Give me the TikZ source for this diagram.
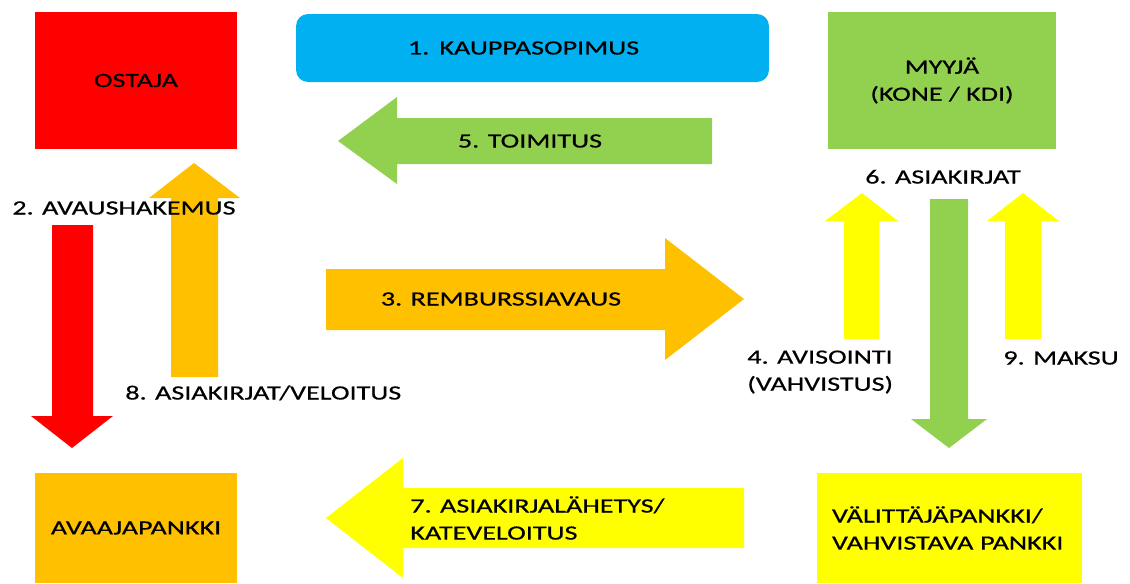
\documentclass[tikz,border=0pt]{standalone}
\usepackage{fontspec}
\setmainfont{Carlito}[FakeStretch=1.39, FakeBold=0.6]
\usetikzlibrary{positioning}
\definecolor{kred}{HTML}{FF0000}
\definecolor{kblue}{HTML}{00B0F0}
\definecolor{kgreen}{HTML}{92D050}
\definecolor{korange}{HTML}{FFC000}
\definecolor{kyellow}{HTML}{FFFF00}

\begin{document}
\begin{tikzpicture}[x=0.02cm, y=-0.02cm,
  every node/.style={font=\fontsize{11.5}{15.4}\selectfont, text=black},
  party/.style={inner sep=0pt, align=center},
  lbl/.style={inner sep=0pt, text height=7.4pt, text depth=0pt}]
\useasboundingbox (0,0) rectangle (1130,583);
% parties
\node[party, fill=kred, minimum width=4.04cm, minimum height=2.74cm] (ostaja) at (136,80.5) {OSTAJA};
\node[party, fill=kblue, rounded corners=0.24cm, align=left, text width=4.98cm, inner xsep=2.24cm, minimum width=9.46cm, minimum height=1.36cm] (sopimus) at (532.5,48) {1. KAUPPASOPIMUS};
\node[party, fill=kgreen, minimum width=4.56cm, minimum height=2.74cm] (myyja) at (942,80.5) {MYYJÄ\\(KONE / KDI)};
\node[party, fill=korange, minimum width=4.04cm, minimum height=2.2cm] (avaaja) at (136,528) {AVAAJAPANKKI};
\node[party, fill=kyellow, align=left, text width=4.7cm, inner xsep=0.3cm, minimum width=5.3cm, minimum height=2.2cm] (valittaja) at (949.5,528) {VÄLITTÄJÄPANKKI/\\VAHVISTAVA PANKKI};
% horizontal arrows
\fill[kgreen] (712,118) -- (397,118) -- (397,97) -- (338,141) -- (397,184) -- (397,164) -- (712,164) -- cycle;
\fill[korange] (326,269) -- (665,269) -- (665,238) -- (744,299) -- (665,360) -- (665,330) -- (326,330) -- cycle;
\fill[kyellow] (744,488) -- (403,488) -- (403,458) -- (326,518) -- (403,578) -- (403,548) -- (744,548) -- cycle;
% vertical arrows
\fill[kred] (52,225) -- (93,225) -- (93,416) -- (113,416) -- (72,448) -- (31,416) -- (52,416) -- cycle;
\fill[korange] (171,377) -- (218,377) -- (218,198) -- (240,198) -- (194,163) -- (149,198) -- (171,198) -- cycle;
\fill[kyellow] (844,339) -- (879,339) -- (879,221) -- (898,221) -- (862,193) -- (825,221) -- (844,221) -- cycle;
\fill[kgreen] (930,199) -- (968,199) -- (968,419) -- (987,419) -- (949,448) -- (911,419) -- (930,419) -- cycle;
\fill[kyellow] (1005,339) -- (1041,339) -- (1041,221) -- (1059,221) -- (1023,193) -- (987,221) -- (1005,221) -- cycle;
% labels
\node[lbl] (toimitus) at (530,141) {5. TOIMITUS};
\node[lbl] (remburssi) at (501,299) {3. REMBURSSIAVAUS};
\node[lbl] (asiakirjat) at (943,177) {6. ASIAKIRJAT};
\node[lbl, anchor=west] (avaus) at (12,208) {2. AVAUSHAKEMUS};
\node[lbl, anchor=west] (veloitus) at (125,393) {8. ASIAKIRJAT/VELOITUS};
\node[lbl, anchor=west] (maksu) at (1003,358) {9. MAKSU};
\node[anchor=west, align=left, inner sep=0pt] (avisointi) at (747,372) {4. AVISOINTI\\(VAHVISTUS)};
\node[anchor=west, align=left, inner sep=0pt] (lahetys) at (410,518) {7. ASIAKIRJALÄHETYS/\\KATEVELOITUS};
\end{tikzpicture}
\end{document}
